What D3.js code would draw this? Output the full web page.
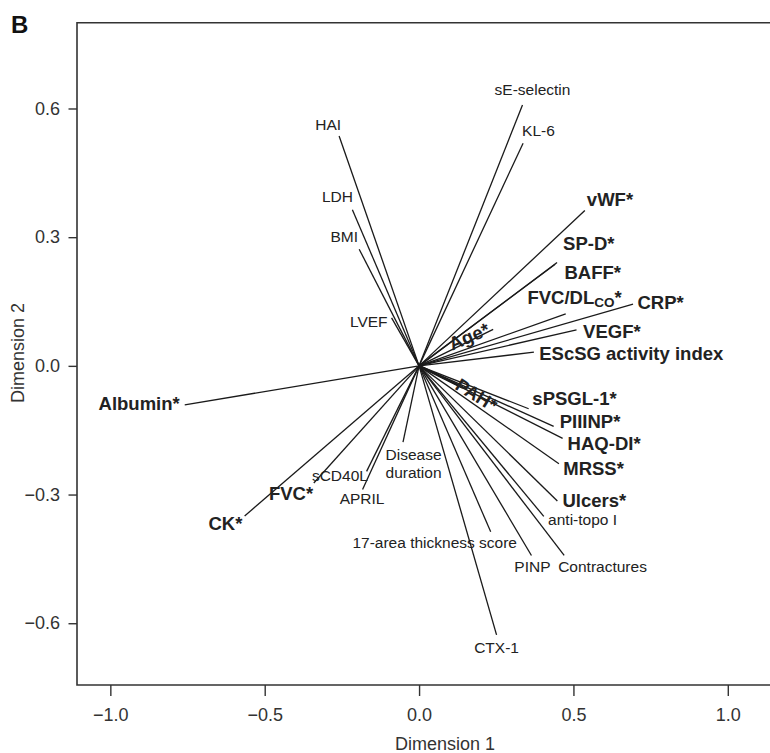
<!DOCTYPE html>
<html>
<head>
<meta charset="utf-8">
<script src="https://cdn.jsdelivr.net/npm/d3@7"></script>
<style>
  html, body { margin: 0; padding: 0; background: #fff; }
  svg { display: block; font-family: "Liberation Sans", Arial, Helvetica, sans-serif; }
</style>
</head>
<body>
<svg id="chart" width="770" height="753"></svg>
<script>
// ---------- DATA ----------
const variables = [
  "HAI", "LDH", "BMI", "LVEF",
  "sE-selectin", "KL-6", "vWF*", "SP-D*", "BAFF*", "FVC/DLco*", "CRP*", "VEGF*",
  "EScSG activity index", "Age*",
  "Albumin*", "CK*", "FVC*", "sCD40L", "APRIL", "Disease duration",
  "17-area thickness score", "sPSGL-1*", "PIIINP*", "HAQ-DI*", "MRSS*", "Ulcers*",
  "anti-topo I", "PINP", "Contractures", "CTX-1", "PAH*"
];
const dimension1 = [
  -0.259, -0.216, -0.194, -0.089,
  0.335, 0.337, 0.537, 0.447, 0.441, 0.475, 0.693, 0.510,
  0.372, 0.240,
  -0.759, -0.565, -0.341, -0.170, -0.183, -0.052,
  0.232, 0.355, 0.436, 0.465, 0.453, 0.448,
  0.404, 0.364, 0.470, 0.251, 0.140
];
const dimension2 = [
  0.536, 0.364, 0.272, 0.112,
  0.608, 0.519, 0.362, 0.241, 0.237, 0.121, 0.144, 0.084,
  0.032, 0.085,
  -0.091, -0.350, -0.273, -0.246, -0.288, -0.178,
  -0.387, -0.100, -0.141, -0.169, -0.228, -0.315,
  -0.351, -0.442, -0.442, -0.627, -0.050
];
const emphasized = ["EScSG activity index"]; // bold besides the starred ones
const xTicks = [-1.0, -0.5, 0.0, 0.5, 1.0];
const yTicks = [-0.6, -0.3, 0.0, 0.3, 0.6];
const xTitle = "Dimension 1";
const yTitle = "Dimension 2";
const panelLetter = "B";

// ---------- LABEL LAYOUT (offsets from vector end, px) ----------
const labelLayout = {
  "HAI": {a: "middle", dx: -11, dy: -6},
  "LDH": {a: "middle", dx: -15, dy: -8},
  "BMI": {a: "middle", dx: -15, dy: -7},
  "LVEF": {a: "end", dx: -4, dy: 9},
  "sE-selectin": {a: "middle", dx: 10, dy: -10},
  "KL-6": {a: "start", dx: -1, dy: -7},
  "vWF*": {a: "start", dx: 2, dy: -5},
  "SP-D*": {a: "start", dx: 6, dy: -12.6},
  "BAFF*": {a: "start", dx: 9.3, dy: 14.4},
  "FVC/DLco*": {a: "start", dx: -38.3, dy: -9.5},
  "CRP*": {a: "start", dx: 4.4, dy: 5},
  "VEGF*": {a: "start", dx: 6.6, dy: 8.3},
  "EScSG activity index": {a: "start", dx: 5.3, dy: 7.5},
  "Age*": {a: "middle", dx: -21.5, dy: 13, rot: -23},
  "Albumin*": {a: "end", dx: -5, dy: 5},
  "CK*": {a: "end", dx: -2.3, dy: 14},
  "FVC*": {a: "end", dx: -0.7, dy: 17},
  "sCD40L": {a: "end", dx: 1.3, dy: 10},
  "APRIL": {a: "middle", dx: -0.5, dy: 15},
  "Disease duration": {a: "middle", dx: 10.5, dy: 17.5, lines: ["Disease", "duration"]},
  "17-area thickness score": {a: "end", dx: 26.3, dy: 16.3},
  "sPSGL-1*": {a: "start", dx: 3.7, dy: -3.3},
  "PIIINP*": {a: "start", dx: 6, dy: 1.6},
  "HAQ-DI*": {a: "start", dx: 5, dy: 11.7},
  "MRSS*": {a: "start", dx: 4.3, dy: 11},
  "Ulcers*": {a: "start", dx: 5, dy: 5.7},
  "anti-topo I": {a: "start", dx: 4.3, dy: 9},
  "PINP": {a: "middle", dx: 1, dy: 16.7},
  "Contractures": {a: "start", dx: -6, dy: 16.7},
  "CTX-1": {a: "middle", dx: 0, dy: 18.3},
  "PAH*": {a: "middle", dx: 10.7, dy: 13, rot: 32}
};

// ---------- CHART ----------
const svg = d3.select("#chart");
const ink = "#222";
const plot = {left: 77, right: 813, top: 22.7, bottom: 685};

const x = d3.scaleLinear().domain([-1.108, 1.276]).range([plot.left, plot.right]);
const y = d3.scaleLinear().domain([-0.744, 0.800]).range([plot.bottom, plot.top]);

const rows = variables.map((v, i) => ({
  name: v, d1: dimension1[i], d2: dimension2[i],
  bold: v.includes("*") || emphasized.includes(v)
}));

// frame (left, top, bottom; right side lies outside the picture)
svg.append("path")
  .attr("d", `M${plot.right},${plot.top}H${plot.left}V${plot.bottom}H${plot.right}`)
  .attr("fill", "none").attr("stroke", "#333").attr("stroke-width", 1.6);

// axes
const fmt = d3.format(".1f");
const gx = svg.append("g").attr("transform", `translate(0,${plot.bottom})`)
  .call(d3.axisBottom(x).tickValues(xTicks).tickFormat(fmt).tickSize(11).tickPadding(12.5));
const gy = svg.append("g").attr("transform", `translate(${plot.left},0)`)
  .call(d3.axisLeft(y).tickValues(yTicks).tickFormat(fmt).tickSize(8.5).tickPadding(8.5));
[gx, gy].forEach(g => {
  g.select(".domain").remove();
  g.selectAll(".tick line").attr("stroke", "#333").attr("stroke-width", 1.4);
  g.selectAll(".tick text").attr("fill", "#333")
    .style("font-family", '"Liberation Sans", Arial, sans-serif').style("font-size", "18px");
});

// axis titles
svg.append("text").attr("x", 445).attr("y", 750).attr("text-anchor", "middle")
  .attr("fill", "#333").style("font-size", "18px").text(xTitle);
svg.append("text").attr("transform", `translate(23.5,353) rotate(-90)`).attr("text-anchor", "middle")
  .attr("fill", "#333").style("font-size", "18px").text(yTitle);

// panel letter
svg.append("text").attr("x", 11).attr("y", 32.5).attr("fill", "#111")
  .style("font-size", "24px").style("font-weight", "bold").text(panelLetter);

// vectors
svg.append("g").selectAll("line").data(rows).join("line")
  .attr("x1", x(0)).attr("y1", y(0))
  .attr("x2", d => x(d.d1)).attr("y2", d => y(d.d2))
  .attr("stroke", "#1a1a1a").attr("stroke-width", d => d.name === "PAH*" ? 2.4 : 1.3);

// labels
const gl = svg.append("g");
rows.forEach(d => {
  const L = labelLayout[d.name];
  const px = x(d.d1) + L.dx, py = y(d.d2) + L.dy;
  const t = gl.append("text")
    .attr("transform", `translate(${px},${py})` + (L.rot ? ` rotate(${L.rot})` : ""))
    .attr("text-anchor", L.a)
    .attr("fill", ink)
    .style("font-size", d.bold ? "18.5px" : "15.5px")
    .style("font-weight", d.bold ? "bold" : "normal");
  if (L.lines) {
    L.lines.forEach((ln, k) => t.append("tspan").attr("x", 0).attr("dy", k === 0 ? 0 : 18.3).text(ln));
  } else if (d.name === "FVC/DLco*") {
    t.append("tspan").text("FVC/DL");
    t.append("tspan").attr("dy", 3).style("font-size", "13.5px").text("CO");
    t.append("tspan").attr("dy", -3).text("*");
  } else {
    t.text(d.name);
  }
});
</script>
</body>
</html>
